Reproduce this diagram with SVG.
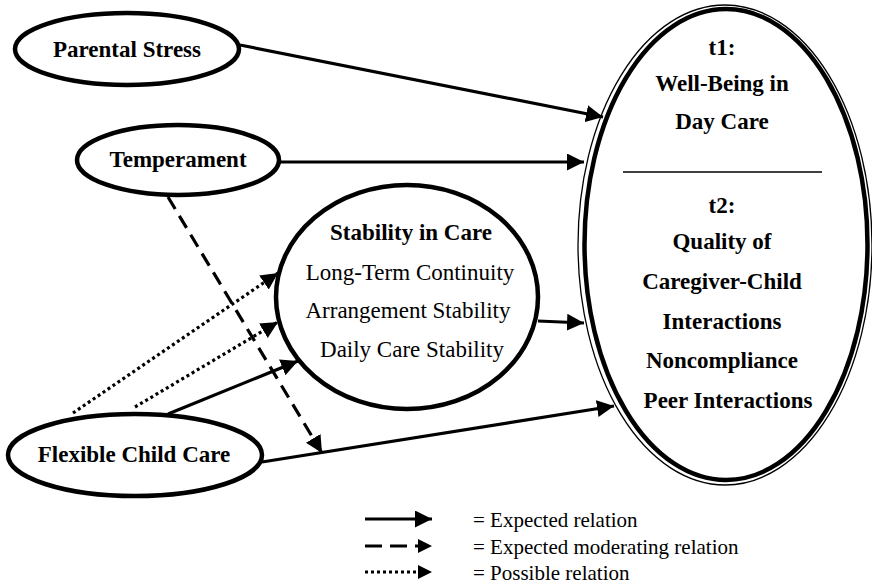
<svg xmlns="http://www.w3.org/2000/svg" width="872" height="584" viewBox="0 0 872 584">
<style>
.node{fill:#fff;stroke:#000;stroke-width:4.5}
.b{font-family:"Liberation Serif","Times New Roman",serif;font-weight:bold;font-size:23px;fill:#000;text-anchor:middle}
.r{font-family:"Liberation Serif","Times New Roman",serif;font-size:23px;fill:#000;text-anchor:middle}
.lg{font-family:"Liberation Serif","Times New Roman",serif;font-size:21px;fill:#000}
.c{fill:none;stroke:#000;stroke-width:3.2}
.dash{stroke-dasharray:14 8}
.dot{stroke-dasharray:3 3}
</style>
<defs>
<marker id="ah" markerUnits="userSpaceOnUse" markerWidth="18" markerHeight="18" refX="17" refY="8.5" orient="auto">
<path d="M0,0 L17,8.5 L0,17 z" fill="#000"/>
</marker>
</defs>
<rect width="872" height="584" fill="#fff"/>
<g id="outcome">
<ellipse cx="725" cy="245" rx="147" ry="240" fill="#fff" stroke="#000" stroke-width="1.3"/>
<ellipse cx="726" cy="244.5" rx="141.5" ry="235.5" fill="none" stroke="#000" stroke-width="4.5"/>
<line x1="623" y1="172" x2="822" y2="172" stroke="#000" stroke-width="1.5"/>
<text class="b" x="722" y="55">t1:</text>
<text class="b" x="722" y="91">Well-Being in</text>
<text class="b" x="722" y="129">Day Care</text>
<text class="b" x="722" y="213">t2:</text>
<text class="b" x="722" y="249">Quality of</text>
<text class="b" x="722" y="289">Caregiver-Child</text>
<text class="b" x="722" y="329">Interactions</text>
<text class="b" x="722" y="368">Noncompliance</text>
<text class="b" x="728" y="408">Peer Interactions</text>
</g>
<g id="parental-stress">
<ellipse class="node" cx="127" cy="49" rx="112" ry="36"/>
<text class="b" x="127" y="57">Parental Stress</text>
</g>
<g id="temperament">
<ellipse class="node" cx="178" cy="160" rx="101" ry="35"/>
<text class="b" x="178" y="167">Temperament</text>
</g>
<g id="stability">
<ellipse class="node" cx="407" cy="297" rx="131" ry="112"/>
<text class="b" x="411" y="240">Stability in Care</text>
<text class="r" x="410" y="280">Long-Term Continuity</text>
<text class="r" x="408" y="318">Arrangement Stability</text>
<text class="r" x="412" y="357">Daily Care Stability</text>
</g>
<g id="flexible">
<ellipse class="node" cx="135" cy="455" rx="127" ry="41"/>
<text class="b" x="134" y="462">Flexible Child Care</text>
</g>
<g id="connectors">
<line class="c" x1="240" y1="45" x2="603" y2="117" marker-end="url(#ah)"/>
<line class="c" x1="280" y1="162" x2="584" y2="162" marker-end="url(#ah)"/>
<line class="c" x1="538" y1="321" x2="584" y2="323" marker-end="url(#ah)"/>
<line class="c" x1="262" y1="462" x2="614" y2="406" marker-end="url(#ah)"/>
<line class="c" x1="168" y1="414" x2="298" y2="361" marker-end="url(#ah)"/>
<line class="c dot" x1="73" y1="413" x2="278" y2="273" marker-end="url(#ah)"/>
<line class="c dot" x1="135" y1="407" x2="278" y2="322" marker-end="url(#ah)"/>
<line class="c dash" x1="168" y1="197" x2="322" y2="453" marker-end="url(#ah)"/>
</g>
<g id="legend">
<line class="c" x1="365" y1="519" x2="432" y2="519" stroke-width="4" marker-end="url(#ah)"/>
<line class="c" x1="365" y1="546" x2="418" y2="546" stroke-width="4" stroke-dasharray="17 8"/>
<path d="M418,539 L432,546 L418,553 z" fill="#000"/>
<line class="c" x1="365" y1="572" x2="418" y2="572" stroke-width="4" stroke-dasharray="3 3"/>
<path d="M418,565 L432,572 L418,579 z" fill="#000"/>
<text class="lg" x="473" y="527">= Expected relation</text>
<text class="lg" x="473" y="554">= Expected moderating relation</text>
<text class="lg" x="473" y="580">= Possible relation</text>
</g>
</svg>
